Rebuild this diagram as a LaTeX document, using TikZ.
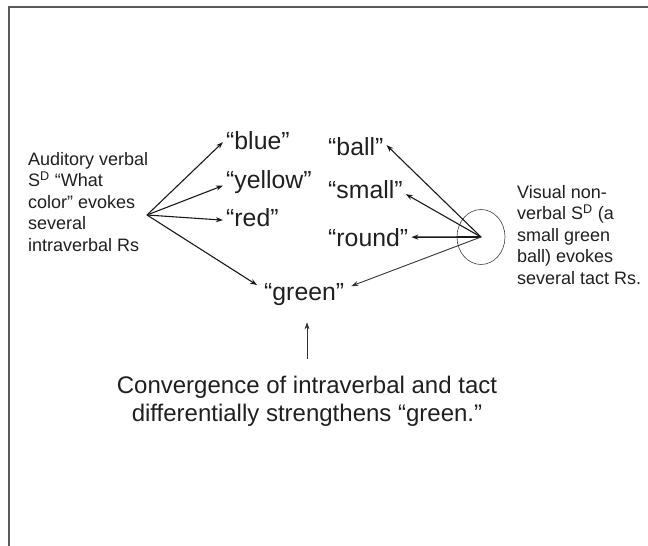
\documentclass[tikz,border=0pt]{standalone}
\usepackage{fontspec}
\setmainfont{Liberation Sans}
\usetikzlibrary{shapes.geometric, arrows.meta, positioning, calc}

\begin{document}
\begin{tikzpicture}[
    x=1pt, y=-1pt,
    >={Stealth[length=7pt, width=5pt]},
    word/.style={anchor=base west, inner xsep=3pt, inner ysep=0pt, text=black!88,
      font=\fontsize{24.8}{28}\selectfont},
    note/.style={anchor=north west, inner sep=0pt, align=left, text=black!88,
      font=\fontsize{18}{21.5}\selectfont},
    caption/.style={anchor=north, inner sep=0pt, align=center, text=black!88,
      font=\fontsize{24}{28}\selectfont},
    object/.style={draw=black!75, ellipse, line width=0.6pt, minimum width=48pt, minimum height=55pt, inner sep=0pt},
    arrow/.style={->, line width=1.1pt, black!90},
    thin arrow/.style={->, line width=0.6pt, black!80}
  ]
    \useasboundingbox (0,0) rectangle (648,546);
    \draw[line width=1.2pt, black!65] (9,546) -- (9,7) -- (648,7);
    % stimuli
    \node[note] (hear) at (28,152)
    {Auditory verbal\\
     S\textsuperscript{D} ``What\\
     color'' evokes\\
     several\\
     intraverbal Rs};
    \node[object] (ballobj) at (481,237) {};
    \node[note] (see) at (517,185)
    {Visual non-\\
     verbal S\textsuperscript{D} (a\\
     small green\\
     ball) evokes\\
     several tact Rs.};
    % responses
    \node[word] (blue) at (223,149) {``blue''};
    \node[word] (yellow) at (223,188) {``yellow''};
    \node[word] (red) at (223,226) {``red''};
    \node[word] (green) at (261,300) {``green''};
    \node[word] (ball) at (325,155) {``ball''};
    \node[word] (small) at (325,198) {``small''};
    \node[word] (round) at (325,246) {``round''};
    \node[caption] (conv) at (307,376)
    {Convergence of intraverbal and tact\\
     differentially strengthens ``green.''};
    \coordinate (src) at (147,215);
    \draw[arrow] (src) -- ([yshift=-2pt]blue.west);
    \draw[arrow] (src) -- ([yshift=-4pt]yellow.west);
    \draw[arrow] (src) -- ([yshift=-3pt]red.west);
    \draw[arrow] (src) -- ([xshift=-4pt,yshift=9pt]green.west);
    \draw[arrow] (ballobj.center) -- ([yshift=1pt]ball.east);
    \draw[arrow] (ballobj.center) -- ([yshift=-5pt]small.east);
    \draw[arrow, line width=1.6pt] (ballobj.center) -- (round.east);
    \draw[thin arrow, line width=0.9pt] (ballobj.center) -- ([xshift=4pt,yshift=8pt]green.east);
    \draw[thin arrow, shorten <=17pt, shorten >=17pt] (conv.north) -- (conv.north |- green.south);
\end{tikzpicture}
\end{document}
